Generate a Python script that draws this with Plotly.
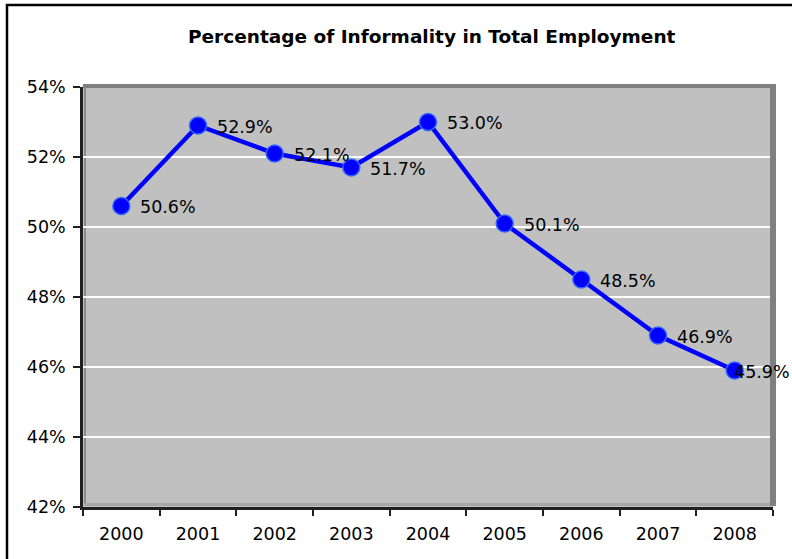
import plotly.graph_objects as go

years = ["2000", "2001", "2002", "2003", "2004", "2005", "2006", "2007", "2008"]
informality = [50.6, 52.9, 52.1, 51.7, 53.0, 50.1, 48.5, 46.9, 45.9]
labels = ["50.6%", "52.9%", "52.1%", "51.7%", "53.0%", "50.1%", "48.5%", "46.9%", "45.9%"]
y_ticks = [42, 44, 46, 48, 50, 52, 54]
y_tick_labels = ["42%", "44%", "46%", "48%", "50%", "52%", "54%"]
title = "Percentage of Informality in Total Employment"

W, H = 792, 559
L, R, T, B = 83, 19, 87, 52
pw, ph = W - L - R, H - T - B

def px(x):
    return (x - L) / pw

def py(y):
    return (H - B - y) / ph

FONT = "DejaVu Sans, Verdana, sans-serif"
FS = 17.5

fig = go.Figure()
fig.add_trace(go.Scatter(
    x=years, y=informality,
    mode="lines+markers",
    line=dict(color="#0000FF", width=4.5),
    marker=dict(size=17, color="#0000FF", line=dict(color="#3366FF", width=1.5)),
    cliponaxis=False,
    hoverinfo="skip",
))

annotations = []
for i, (v, lab) in enumerate(zip(informality, labels)):
    last = i == len(informality) - 1
    annotations.append(dict(
        x=i, y=v, xref="x", yref="y", text=lab, showarrow=False,
        xanchor="left", yanchor="middle",
        xshift=-3 if last else 17, yshift=-1,
        font=dict(family=FONT, size=FS, color="#000000"),
    ))
annotations.append(dict(
    text="<b>" + title + "</b>", xref="paper", yref="paper",
    x=px(432), y=py(37), xanchor="center", yanchor="middle",
    showarrow=False, font=dict(family=FONT, size=18.5, color="#000000"),
))

shapes = [
    # outer chart border
    dict(type="rect", xref="paper", yref="paper",
         x0=px(7), x1=px(810), y0=py(5), y1=py(575),
         line=dict(color="#000000", width=2.5), fillcolor="rgba(0,0,0,0)", layer="below"),
    # top frame
    dict(type="rect", xref="paper", yref="paper",
         x0=px(83), x1=px(776), y0=py(88), y1=py(84),
         line=dict(width=0), fillcolor="#808080", layer="above"),
    # right frame
    dict(type="rect", xref="paper", yref="paper",
         x0=px(770), x1=px(776), y0=py(506), y1=py(84),
         line=dict(width=0), fillcolor="#808080", layer="above"),
    # left inner shade
    dict(type="rect", xref="paper", yref="paper",
         x0=px(84), x1=px(86), y0=py(506), y1=py(88),
         line=dict(width=0), fillcolor="#8c8c8c", layer="below"),
    # bottom inner shade
    dict(type="rect", xref="paper", yref="paper",
         x0=px(84), x1=px(770), y0=py(506), y1=py(503),
         line=dict(width=0), fillcolor="#a8a8a8", layer="below"),
]

fig.update_layout(
    width=W, height=H,
    margin=dict(l=L, r=R, t=T, b=B, pad=0),
    paper_bgcolor="#FFFFFF",
    plot_bgcolor="#C0C0C0",
    showlegend=False,
    shapes=shapes,
    annotations=annotations,
    font=dict(family=FONT, size=FS, color="#000000"),
)

fig.update_xaxes(
    type="category", range=[-0.5, len(years) - 0.5],
    showgrid=False, zeroline=False,
    showline=True, linecolor="#202020", linewidth=2.5,
    ticks="outside", tickson="boundaries", ticklen=6, tickwidth=2, tickcolor="#202020",
    tickfont=dict(family=FONT, size=FS, color="#000000"),
    ticklabelstandoff=9,
    fixedrange=True,
)
fig.update_yaxes(
    range=[42, 54], tickvals=y_ticks, ticktext=y_tick_labels,
    showgrid=True, gridcolor="#FFFFFF", gridwidth=1.5,
    zeroline=False,
    showline=True, linecolor="#202020", linewidth=2.5,
    ticks="outside", ticklen=7, tickwidth=2, tickcolor="#202020",
    tickfont=dict(family=FONT, size=FS, color="#000000"),
    ticklabelstandoff=4,
    fixedrange=True,
)

fig.write_html("out.html", config={"displayModeBar": False},
               post_script="document.body.style.margin='0';")
